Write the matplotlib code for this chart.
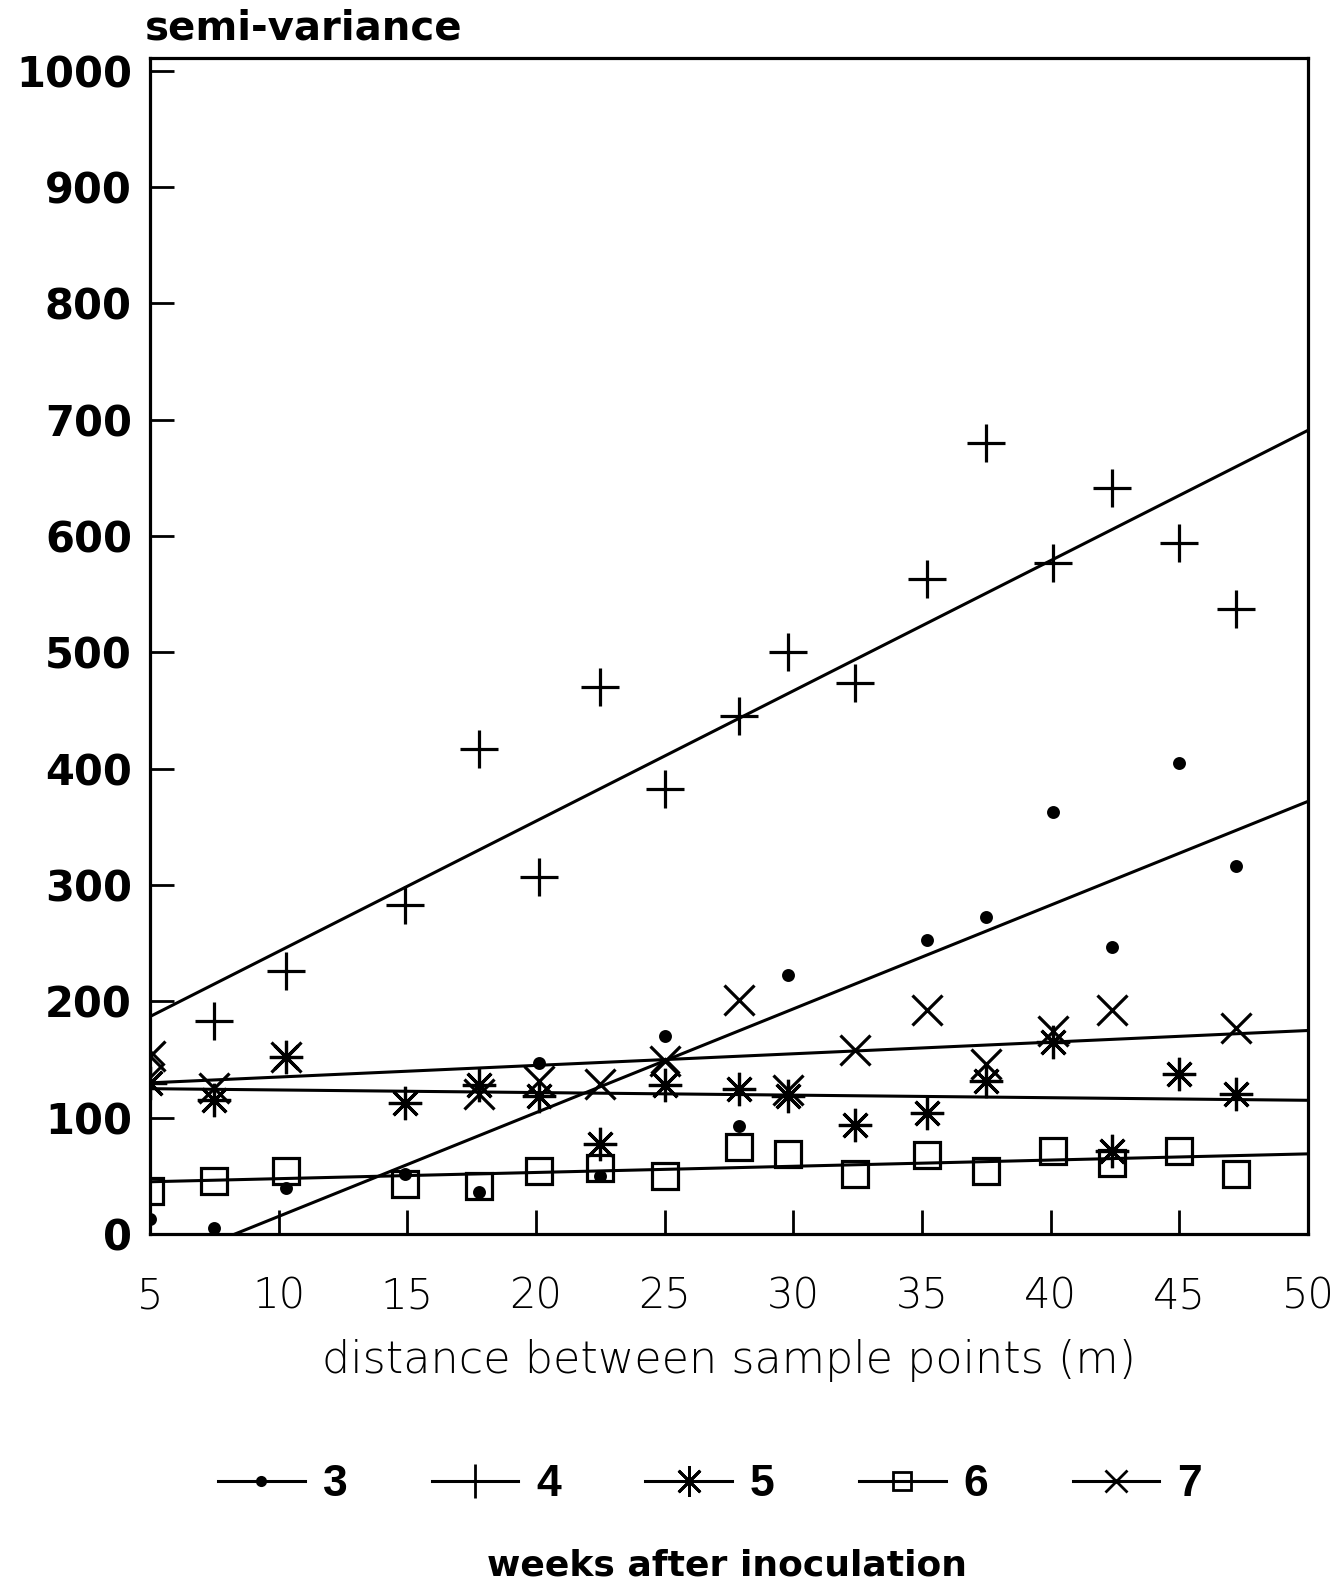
import numpy as np
import matplotlib
matplotlib.use("Agg")
import matplotlib.pyplot as plt
from matplotlib.lines import Line2D

# lag distances (m) at which the semi-variance was computed
lags = [5, 7.5, 10.3, 14.9, 17.8, 20.1, 22.5, 25, 27.9, 29.8, 32.4, 35.2, 37.5, 40.1, 42.4, 45, 47.2]
nan = np.nan

# semi-variance per week after inoculation
wk3 = [13, 5, 40, 52, 36, 147, 50, 170, 93, 223, nan, 253, 273, 363, 247, 405, 316]
wk4 = [nan, 183, 226, 283, 417, 307, 470, 383, 445, 500, 474, 563, 680, 577, 641, 594, 537]
wk5 = [130, 115, 152, 113, 128, 119, 77, 128, 125, 119, 94, 104, 132, 165, 71, 138, 120]
wk6 = [37, 46, 54, 43, 41, 54, 57, 50, 75, 69, 52, 68, 54, 71, 61, 71, 52]
wk7 = [153, 126, 152, nan, 120, 132, 129, 149, 201, 124, 158, 193, 146, 175, 193, nan, 177]
# odd diamond marks in the scan
diamond_x = [5, 25]
diamond_y = [146, 139]

# fitted linear models: (intercept, slope)
fits = {3: (-74, 8.92), 4: (131, 11.2), 5: (126.1, -0.222), 6: (42.3, 0.533), 7: (125, 1.0)}

series = [(3, wk3), (4, wk4), (5, wk5), (6, wk6), (7, wk7)]
markers = {3: dict(marker='o', markersize=7, markerfacecolor='black'),
           4: dict(marker='+', markersize=28),
           5: dict(marker=(8, 2, 0), markersize=24),
           6: dict(marker='s', markersize=19, markerfacecolor='none'),
           7: dict(marker='x', markersize=22)}
leg_size = {3: 6, 4: 24, 5: 22, 6: 13, 7: 16}

fig = plt.figure(figsize=(13.42, 15.86), dpi=100)
ax = fig.add_axes([0.1118, 0.2219, 0.8629, 0.7415])

xs = np.array([5, 50])
for wk, vals in series:
    a, b = fits[wk]
    ax.plot(xs, a + b * xs, color='black', lw=2.2, zorder=2)
    ax.plot(lags, vals, linestyle='none', color='black', markeredgewidth=2.3,
            markeredgecolor='black', zorder=3, **markers[wk])
ax.plot(diamond_x, diamond_y, linestyle='none', marker='D', markersize=13,
        markerfacecolor='none', markeredgecolor='black', markeredgewidth=2.2)

ax.set_xlim(5, 50)
ax.set_ylim(0, 1011)
ax.set_xticks(np.arange(5, 51, 5))
ax.set_yticks(np.arange(0, 1001, 100))
ax.tick_params(axis='both', direction='in', length=17, width=2, top=False, right=False)
ax.tick_params(axis='y', pad=13)
ax.tick_params(axis='x', pad=30)
for s in ax.spines.values():
    s.set_linewidth(2.3)

for lab in ax.get_yticklabels():
    lab.set_fontfamily('DejaVu Sans')
    lab.set_fontweight('bold')
    lab.set_fontsize(30)
for lab in ax.get_xticklabels():
    lab.set_fontfamily('DejaVu Sans')
    lab.set_fontweight('light')
    lab.set_fontsize(30)

ax.set_xlabel('distance between sample points (m)', fontsize=32, fontfamily='DejaVu Sans',
              fontweight='light', labelpad=16)
fig.text(0.108, 0.982, 'semi-variance', fontsize=29, fontweight='bold',
         fontfamily='DejaVu Sans', ha='left', va='center')

handles = []
for wk, vals in series:
    kw = dict(markers[wk])
    kw['markersize'] = leg_size[wk]
    handles.append(Line2D([0], [0], color='black', lw=2.2, markeredgewidth=2.0,
                          markeredgecolor='black', **kw))
fig.legend(handles, [str(wk) for wk, _ in series], loc='center', ncol=5,
           bbox_to_anchor=(0.529, 0.0637), frameon=False, handlelength=1.95,
           columnspacing=1.9, handletextpad=0.4,
           prop=dict(family='Liberation Sans', weight='bold', size=32))
fig.text(0.542, 0.013, 'weeks after inoculation', fontsize=26, fontweight='bold',
         fontfamily='DejaVu Sans', ha='center', va='center')

fig.savefig('out.png', dpi=100)
